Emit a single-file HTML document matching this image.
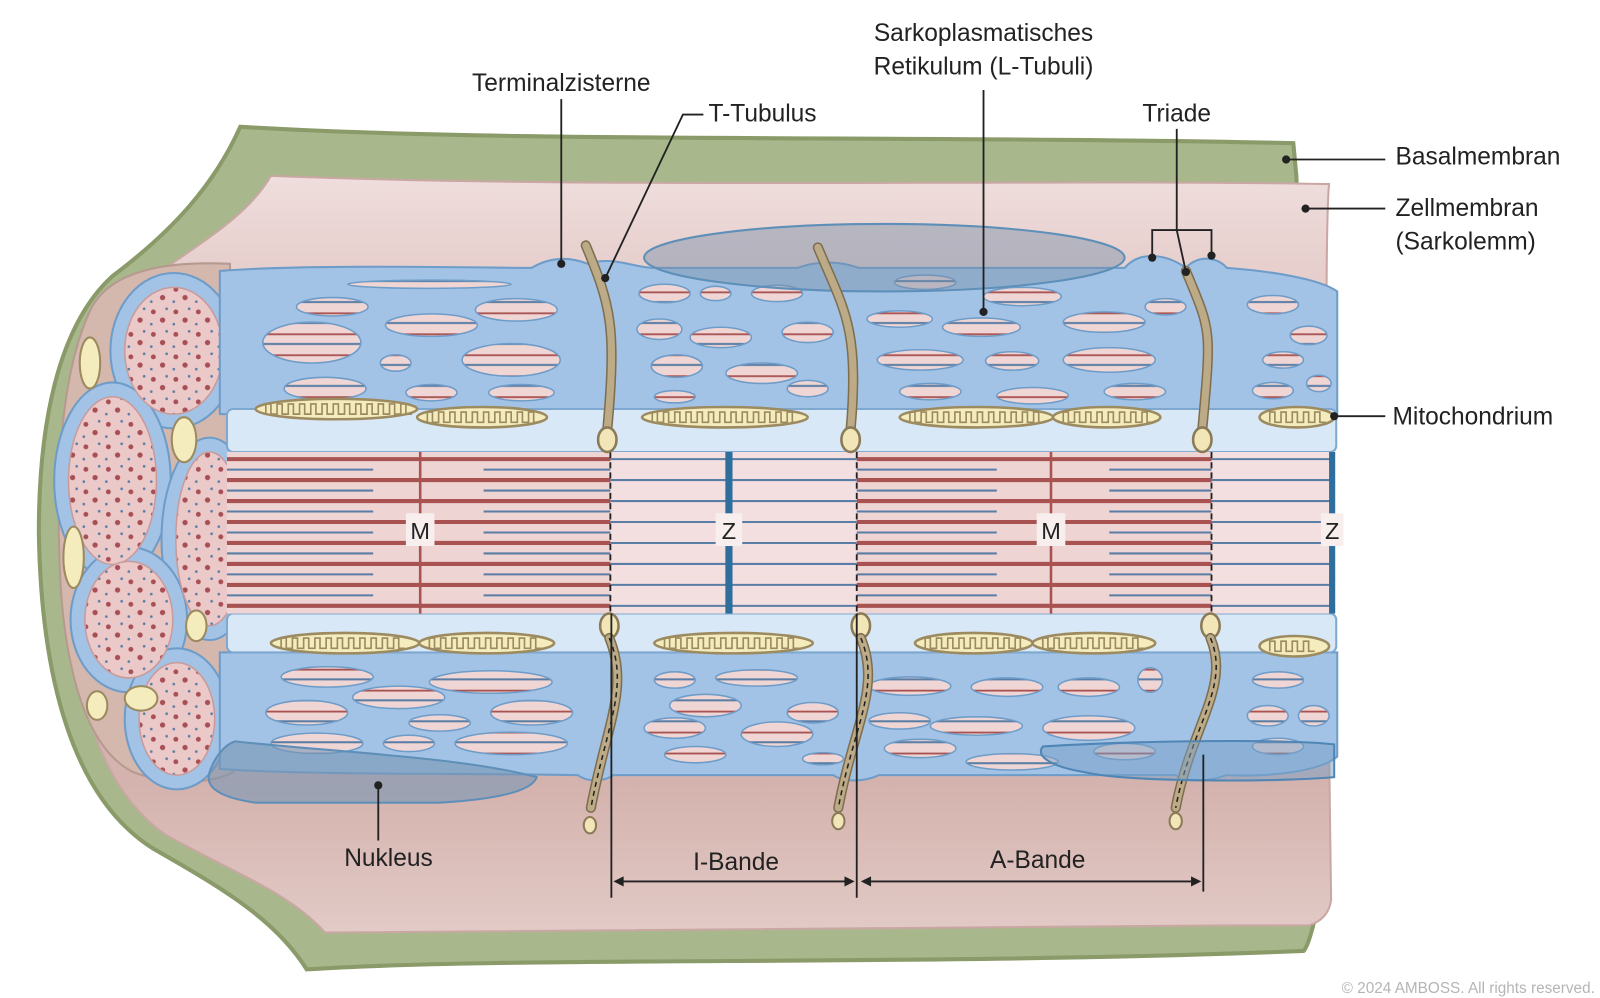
<!DOCTYPE html>
<html><head><meta charset="utf-8"><style>
html,body{margin:0;padding:0;background:#fff;width:1600px;height:998px;overflow:hidden}
svg{display:block}
text{font-family:"Liberation Sans",sans-serif;fill:#222}
</style></head><body>
<svg id="s" width="1600" height="998" viewBox="0 0 1565 976" preserveAspectRatio="none">
<defs>
<pattern id="stripes" patternUnits="userSpaceOnUse" width="40" height="20.5" y="449">
<rect width="40" height="20.5" fill="#efd6d4"/>
<rect y="-1.7" width="40" height="3.5" fill="#a85252"/>
<rect y="9.4" width="40" height="2" fill="#5a7da5"/>
</pattern>
<pattern id="dots" patternUnits="userSpaceOnUse" width="22" height="22">
<rect width="22" height="22" fill="#ebc9c9"/>
<circle cx="5" cy="5" r="2.6" fill="#a84f55"/>
<circle cx="16" cy="9" r="1.3" fill="#5a7da5"/>
<circle cx="9" cy="16" r="1.3" fill="#5a7da5"/>
<circle cx="18" cy="19" r="2.4" fill="#a84f55"/>
</pattern>
<linearGradient id="pinkg" x1="0" y1="0" x2="0" y2="1">
<stop offset="0" stop-color="#efdedd"/><stop offset="0.12" stop-color="#e6cfcd"/>
<stop offset="0.8" stop-color="#d4b2ad"/><stop offset="1" stop-color="#e2cac6"/>
</linearGradient>
</defs>

<path d="M235,124 C500,140 900,132 1265,140 L1268,172 L1290,880 C1285,905 1280,925 1275,930 C900,945 500,935 300,948 C270,900 220,870 150,830 C70,780 40,660 38,520 C38,420 55,320 110,270 C170,225 210,180 235,124 Z" fill="#a9b88c" stroke="#8a9a68" stroke-width="4"/>
<path d="M265,172 C600,185 1000,175 1300,180 C1295,230 1298,600 1302,880 C1300,895 1290,902 1280,905 C900,905 500,912 318,912 C280,870 220,850 160,815 C85,760 68,650 68,520 C68,420 80,330 135,282 C190,240 240,215 265,172 Z" fill="url(#pinkg)" stroke="#c9a7a3" stroke-width="2"/>

<path d="M225,258 C160,255 110,265 90,300 C60,360 55,460 58,540 C60,640 80,730 130,755 C170,770 210,765 228,755 Z" fill="#d4b7ad" stroke="#b69a90" stroke-width="2"/>
<g id="cap"></g>

<path d="M215,265 C300,258 480,262 520,262 C540,250 560,252 575,258 C600,250 620,262 640,262 L780,262 C800,255 820,255 840,262 L1100,262 C1115,245 1140,248 1160,262 C1170,250 1190,250 1200,262 C1240,265 1290,272 1308,285 L1308,405 L215,405 Z" fill="#a2c3e5" stroke="#6e9cc9" stroke-width="2"/>
<path d="M215,638 L1308,638 L1308,740 C1290,755 1240,760 1200,758 C1180,765 1160,765 1150,758 L860,758 C845,765 825,765 815,758 L600,758 C590,765 575,765 565,758 C450,756 300,758 215,752 Z" fill="#a2c3e5" stroke="#6e9cc9" stroke-width="2"/>
<g id="holes"></g>
<ellipse cx="865" cy="252" rx="235" ry="33" fill="rgba(120,145,170,0.45)" stroke="#5e8fb8" stroke-width="2"/>
<rect x="222" y="400" width="1085" height="42" rx="6" fill="#d8e8f6" stroke="#7ea8d0" stroke-width="2"/>
<rect x="222" y="600" width="1085" height="38" rx="6" fill="#d8e8f6" stroke="#7ea8d0" stroke-width="2"/>
<g id="mito"></g>

<rect x="222" y="442" width="1083" height="158" fill="#f3dfdf"/>
<rect x="222" y="442" width="375" height="158" fill="#eed4d3"/>
<rect x="838" y="442" width="347" height="158" fill="#eed4d3"/>
<g id="fil"></g>
<line x1="411" y1="442" x2="411" y2="600" stroke="#a85252" stroke-width="2.5"/>
<line x1="1028" y1="442" x2="1028" y2="600" stroke="#a85252" stroke-width="2.5"/>
<line x1="713" y1="442" x2="713" y2="600" stroke="#2d6e9c" stroke-width="7"/>
<line x1="1303" y1="442" x2="1303" y2="600" stroke="#2d6e9c" stroke-width="6"/>
<g stroke="#222" stroke-width="1.8" stroke-dasharray="6,4">
<line x1="597" y1="442" x2="597" y2="600"/><line x1="838" y1="442" x2="838" y2="600"/><line x1="1185" y1="442" x2="1185" y2="600"/>
</g>
<g id="tt"></g>

<path d="M230,725 C320,735 450,740 525,760 C520,775 480,782 430,785 L250,785 C215,780 200,770 205,755 C210,740 220,728 230,725 Z" fill="rgba(120,150,180,0.6)" stroke="#5e8fb8" stroke-width="2"/>
<path d="M1020,730 C1100,725 1250,722 1305,728 L1305,760 C1250,765 1100,765 1060,755 C1030,750 1012,740 1020,730 Z" fill="rgba(120,160,200,0.5)" stroke="#4f86b5" stroke-width="2"/>

<g id="labels" stroke="#222" stroke-width="1.8" fill="none">
<line x1="549" y1="97" x2="549" y2="258"/>
<polyline points="688,112 668,112 592,272"/>
<line x1="962" y1="88" x2="962" y2="305"/>
<polyline points="1127,252 1127,225 1185,225 1185,250"/><line x1="1151" y1="126" x2="1151" y2="225"/><line x1="1151" y1="225" x2="1160" y2="266"/>
<line x1="1258" y1="156" x2="1355" y2="156"/>
<line x1="1277" y1="204" x2="1355" y2="204"/>
<line x1="1305" y1="407" x2="1355" y2="407"/>
<line x1="370" y1="768" x2="370" y2="822"/>
<line x1="598" y1="600" x2="598" y2="878"/><line x1="838" y1="600" x2="838" y2="878"/><line x1="1177" y1="738" x2="1177" y2="872"/>
<line x1="606" y1="862" x2="830" y2="862"/><line x1="848" y1="862" x2="1170" y2="862"/>
</g>
<g fill="#222">
<circle cx="549" cy="258" r="4"/><circle cx="592" cy="272" r="4"/><circle cx="962" cy="305" r="4"/>
<circle cx="1127" cy="252" r="4"/><circle cx="1160" cy="266" r="4"/><circle cx="1185" cy="250" r="4"/>
<circle cx="1258" cy="156" r="4"/><circle cx="1277" cy="204" r="4"/><circle cx="1305" cy="407" r="4"/><circle cx="370" cy="768" r="4"/>
<path d="M600,862 l10,-5 v10 z M836,862 l-10,-5 v10 z M842,862 l10,-5 v10 z M1175,862 l-10,-5 v10 z"/>
</g>
<g font-size="24">
<text x="549" y="89" text-anchor="middle">Terminalzisterne</text>
<text x="693" y="119">T-Tubulus</text>
<text x="962" y="40" text-anchor="middle">Sarkoplasmatisches</text>
<text x="962" y="73" text-anchor="middle">Retikulum (L-Tubuli)</text>
<text x="1151" y="119" text-anchor="middle">Triade</text>
<text x="1365" y="161">Basalmembran</text>
<text x="1365" y="211">Zellmembran</text>
<text x="1365" y="244">(Sarkolemm)</text>
<text x="1362" y="415">Mitochondrium</text>
<text x="380" y="847" text-anchor="middle">Nukleus</text>
<text x="720" y="851" text-anchor="middle">I-Bande</text>
<text x="1015" y="849" text-anchor="middle">A-Bande</text>
</g>
<g font-size="23" text-anchor="middle">
<rect x="397" y="502" width="28" height="32" fill="#f8eeee"/><text x="411" y="527">M</text>
<rect x="1014" y="502" width="28" height="32" fill="#f8eeee"/><text x="1028" y="527">M</text>
<rect x="700" y="502" width="26" height="32" fill="#f8eeee"/><text x="713" y="527">Z</text>
<rect x="1292" y="502" width="22" height="32" fill="#f8eeee"/><text x="1303" y="527">Z</text>
</g>
<text x="1560" y="971" text-anchor="end" font-size="15" style="fill:#b5b5b5">© 2024 AMBOSS. All rights reserved.</text>
</svg>
<script>
const NS='http://www.w3.org/2000/svg';
function mk(p,t,a){const e=document.createElementNS(NS,t);for(const k in a)e.setAttribute(k,a[k]);p.appendChild(e);return e;}
const redY=[449,469.5,490,510.5,531,551.5,572,592.5];
const redSeg=[[222,597],[838,1185]];
const blueASeg=[[222,365],[473,597],[838,975],[1085,1185]];
const iSeg=[[597,838],[1185,1303]];
const fil=document.getElementById('fil');
redY.forEach((y,i)=>{
 redSeg.forEach(s=>{const l=mk(fil,'line',{x1:s[0],x2:s[1],y1:y,y2:y,stroke:'#a85252','stroke-width':4});
 
 });
 iSeg.forEach(s=>{const l=mk(fil,'line',{x1:s[0],x2:s[1],y1:y,y2:y,stroke:'#5a7da5','stroke-width':2});
 
 });
 if(i<7) blueASeg.forEach(s=>{const l=mk(fil,'line',{x1:s[0],x2:s[1],y1:y+10.25,y2:y+10.25,stroke:'#5a7da5','stroke-width':2});
 
 });
});
const holes=[[325,300,35,9],[305,335,48,20],[422,318,45,11],[387,355,15,8],[500,352,48,16],[505,303,40,11],[318,380,40,11],[422,384,25,8],[510,384,32,8],[420,278,80,4],
[650,287,25,9],[700,287,15,7],[760,287,25,8],[645,322,22,10],[705,330,30,10],[790,325,25,10],[662,358,25,11],[745,365,35,10],[660,388,20,6],[790,380,20,8],
[905,276,30,7],[1000,290,38,9],[880,312,32,8],[960,320,38,9],[1080,315,40,10],[1140,300,20,8],[900,352,42,10],[990,353,26,9],[1085,352,45,12],[910,383,30,8],[1010,387,35,8],[1110,383,30,8],
[1245,298,25,9],[1280,328,18,9],[1255,352,20,8],[1245,382,20,8],[1290,375,12,8],
[320,662,45,10],[390,682,45,11],[480,667,60,11],[300,697,40,12],[430,707,30,8],[520,697,40,12],[310,727,45,10],[400,727,25,8],[500,727,55,11],
[660,665,20,8],[740,663,40,8],[690,690,35,11],[795,697,25,10],[660,712,30,10],[760,718,35,12],[680,738,30,8],[805,742,20,6],
[890,671,40,9],[985,672,35,9],[1065,672,30,9],[1125,665,12,12],[880,705,30,8],[955,710,45,9],[1065,712,45,12],[900,732,35,9],[990,745,45,8],[1100,735,30,8],
[1250,665,25,8],[1240,700,20,10],[1285,700,15,10],[1250,730,25,8]];
const hg=document.getElementById('holes');
holes.forEach(h=>{const e=mk(hg,'ellipse',{cx:h[0],cy:h[1],rx:h[2],ry:h[3],fill:'url(#stripes)',stroke:'#6e9cc9','stroke-width':1.5});

});
const mitos=[[250,408,400,410],[408,535,408,410],[628,790,408,410],[880,1030,408,410],[1030,1135,408,410],[1232,1305,408,410],
[265,410,629,630],[410,542,629,630],[640,795,629,630],[895,1010,629,630],[1010,1130,629,630],[1232,1300,632,632]];
const mg=document.getElementById('mito');
mitos.forEach(m=>{const cx=(m[0]+m[1])/2,cy=m[2],rx=(m[1]-m[0])/2,ry=10;
 const e=mk(mg,'ellipse',{cx:cx,cy:cy,rx:rx,ry:ry,fill:'#f4ecbc',stroke:'#9c8a60','stroke-width':2.5});
 
 
 let d='M'+(m[0]+10)+','+(cy+5);
 for(let x=m[0]+10;x<m[1]-14;x+=11){d+=' L'+x+','+(cy-5)+' L'+(x+5)+','+(cy-5)+' L'+(x+5)+','+(cy+5)+' L'+(x+11)+','+(cy+5);}
 const p=mk(mg,'path',{d:d,fill:'none',stroke:'#9c8a60','stroke-width':1.6});
 
 
});
const tt=document.getElementById('tt');
const tubes=[[573,240,598,430,596,612,578,790,577,807],[800,242,836,430,842,612,820,790,820,803],[1160,265,1180,430,1184,612,1150,790,1150,803]];
tubes.forEach(t=>{
 const up=mk(tt,'path',{d:`M${t[0]},${t[1]} C${t[0]+25},${t[1]+60} ${t[2]+5},${t[3]-110} ${t[2]-4},${t[3]-10}`,fill:'none',stroke:'#7e6e50','stroke-width':10,'stroke-linecap':'round'});
 
 
 mk(tt,'path',{d:`M${t[0]},${t[1]} C${t[0]+25},${t[1]+60} ${t[2]+5},${t[3]-110} ${t[2]-4},${t[3]-10}`,fill:'none',stroke:'#bcab86','stroke-width':7,'stroke-linecap':'round'});
 const b1=mk(tt,'ellipse',{cx:t[2]-4,cy:t[3],rx:9,ry:12,fill:'#f2e6b8',stroke:'#8a7a58','stroke-width':2.5});
 
 
 const b2=mk(tt,'ellipse',{cx:t[4],cy:t[5],rx:9,ry:12,fill:'#f2e6b8',stroke:'#8a7a58','stroke-width':2.5});
 
 
 const dn=`M${t[4]},${t[5]+12} C${t[4]+20},${t[5]+60} ${t[6]+15},${t[7]-80} ${t[6]},${t[7]}`;
 const lo=mk(tt,'path',{d:dn,fill:'none',stroke:'#7e6e50','stroke-width':10,'stroke-linecap':'round'});
 
 
 mk(tt,'path',{d:dn,fill:'none',stroke:'#bcab86','stroke-width':7,'stroke-linecap':'round'});
 mk(tt,'path',{d:dn,fill:'none',stroke:'#222','stroke-width':1.5,'stroke-dasharray':'5,4'});
 const c=mk(tt,'ellipse',{cx:t[8],cy:t[9],rx:6,ry:8,fill:'#f2e6b8',stroke:'#8a7a58','stroke-width':2});
 
 
});
const cap=document.getElementById('cap');
const cells=[[170,343,48,62],[110,470,43,82],[205,527,33,85],[126,606,43,57],[173,703,37,55]];
cells.forEach(c=>{
 const o=mk(cap,'ellipse',{cx:c[0],cy:c[1],rx:c[2]+14,ry:c[3]+14,fill:'#a2c3e5',stroke:'#6e9cc9','stroke-width':2});
 
 
});
cells.forEach(c=>{
 const i=mk(cap,'ellipse',{cx:c[0],cy:c[1],rx:c[2],ry:c[3],fill:'url(#dots)',stroke:'#c99a9a','stroke-width':1.5});
 
 
});
const smallM=[[88,355,10,25],[180,430,12,22],[72,545,10,30],[192,612,10,15],[138,683,16,12],[95,690,10,14]];
smallM.forEach(m=>{const e=mk(cap,'ellipse',{cx:m[0],cy:m[1],rx:m[2],ry:m[3],fill:'#f4ecbc',stroke:'#9c8a60','stroke-width':2});
 
 });
</script>
</body></html>
